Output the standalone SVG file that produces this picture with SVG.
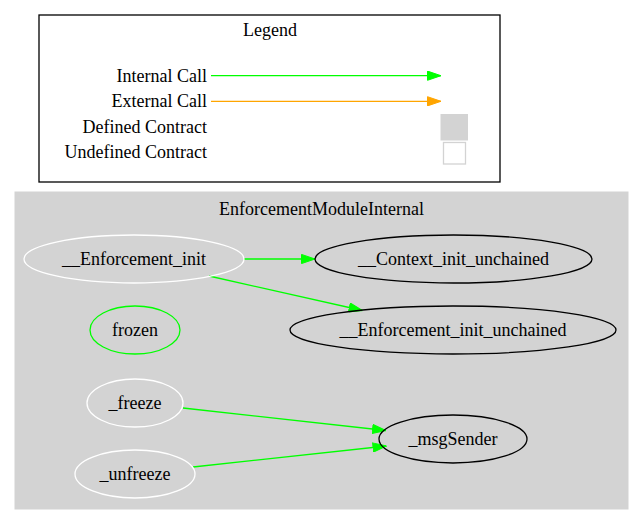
<svg xmlns="http://www.w3.org/2000/svg" width="644" height="525" viewBox="0 0 644 525">
<style>
text{font-family:'Liberation Serif','Times New Roman',serif;font-size:18px;fill:#000}
.n{fill:none;stroke-width:1.3}
.w{stroke:#fff}
.b{stroke:#000}
.g{stroke:#00ff00}
.e{fill:none;stroke:#00ff00;stroke-width:1.3}
</style>
<defs>
<marker id="ag" viewBox="0 0 14 10" refX="14" refY="5" markerWidth="14" markerHeight="10" markerUnits="userSpaceOnUse" orient="auto"><path d="M0.5,0.4L14,5L0.5,9.6z" fill="#00ff00" stroke="#00ff00"/></marker>
<marker id="ao" viewBox="0 0 14 10" refX="14" refY="5" markerWidth="14" markerHeight="10" markerUnits="userSpaceOnUse" orient="auto"><path d="M0.5,0.4L14,5L0.5,9.6z" fill="#ffa500" stroke="#ffa500"/></marker>
</defs>
<rect width="644" height="525" fill="#fff"/>
<g id="legend">
<rect x="39" y="15" width="461" height="167" fill="#fff" stroke="#000" stroke-width="1.3"/>
<text x="270" y="35.5" text-anchor="middle">Legend</text>
<text x="207" y="81.5" text-anchor="end">Internal Call</text>
<text x="207" y="107" text-anchor="end">External Call</text>
<text x="207" y="132.5" text-anchor="end">Defined Contract</text>
<text x="207" y="158" text-anchor="end">Undefined Contract</text>
<line x1="211" y1="75.7" x2="441" y2="75.7" stroke="#00ff00" stroke-width="1.3" marker-end="url(#ag)"/>
<line x1="211" y1="101.3" x2="441" y2="101.3" stroke="#ffa500" stroke-width="1.3" marker-end="url(#ao)"/>
<rect x="441" y="114.5" width="26.5" height="25.5" fill="#d3d3d3" stroke="#d3d3d3"/>
<rect x="443.5" y="142.5" width="22" height="21.5" fill="#fff" stroke="#d3d3d3" stroke-width="1.3"/>
</g>
<g id="cluster">
<rect x="15" y="192" width="613" height="317" fill="#d3d3d3" stroke="#d3d3d3"/>
<text x="321.5" y="214.5" text-anchor="middle">EnforcementModuleInternal</text>
</g>
<g id="edges">
<line class="e" x1="244" y1="259" x2="315" y2="259" marker-end="url(#ag)"/>
<line class="e" x1="209" y1="276" x2="362.5" y2="310.5" marker-end="url(#ag)"/>
<line class="e" x1="183" y1="408" x2="386" y2="430.5" marker-end="url(#ag)"/>
<line class="e" x1="193" y1="467" x2="386.5" y2="446" marker-end="url(#ag)"/>
</g>
<g id="n_enf_init"><ellipse class="n w" cx="134" cy="259" rx="110" ry="24"/><text x="134" y="264.5" text-anchor="middle">__Enforcement_init</text></g>
<g id="n_ctx"><ellipse class="n b" cx="453.5" cy="259" rx="138.5" ry="24"/><text x="453.5" y="264.5" text-anchor="middle">__Context_init_unchained</text></g>
<g id="n_frozen"><ellipse class="n g" cx="135" cy="330" rx="45" ry="24"/><text x="135" y="335.5" text-anchor="middle">frozen</text></g>
<g id="n_enf_unch"><ellipse class="n b" cx="453" cy="330" rx="163" ry="24"/><text x="453" y="335.5" text-anchor="middle">__Enforcement_init_unchained</text></g>
<g id="n_freeze"><ellipse class="n w" cx="135" cy="403" rx="48" ry="24"/><text x="135" y="408.5" text-anchor="middle">_freeze</text></g>
<g id="n_unfreeze"><ellipse class="n w" cx="135" cy="474" rx="60" ry="24"/><text x="135" y="479.5" text-anchor="middle">_unfreeze</text></g>
<g id="n_msg"><ellipse class="n b" cx="453" cy="439" rx="74" ry="24"/><text x="453" y="444.5" text-anchor="middle">_msgSender</text></g>
</svg>
